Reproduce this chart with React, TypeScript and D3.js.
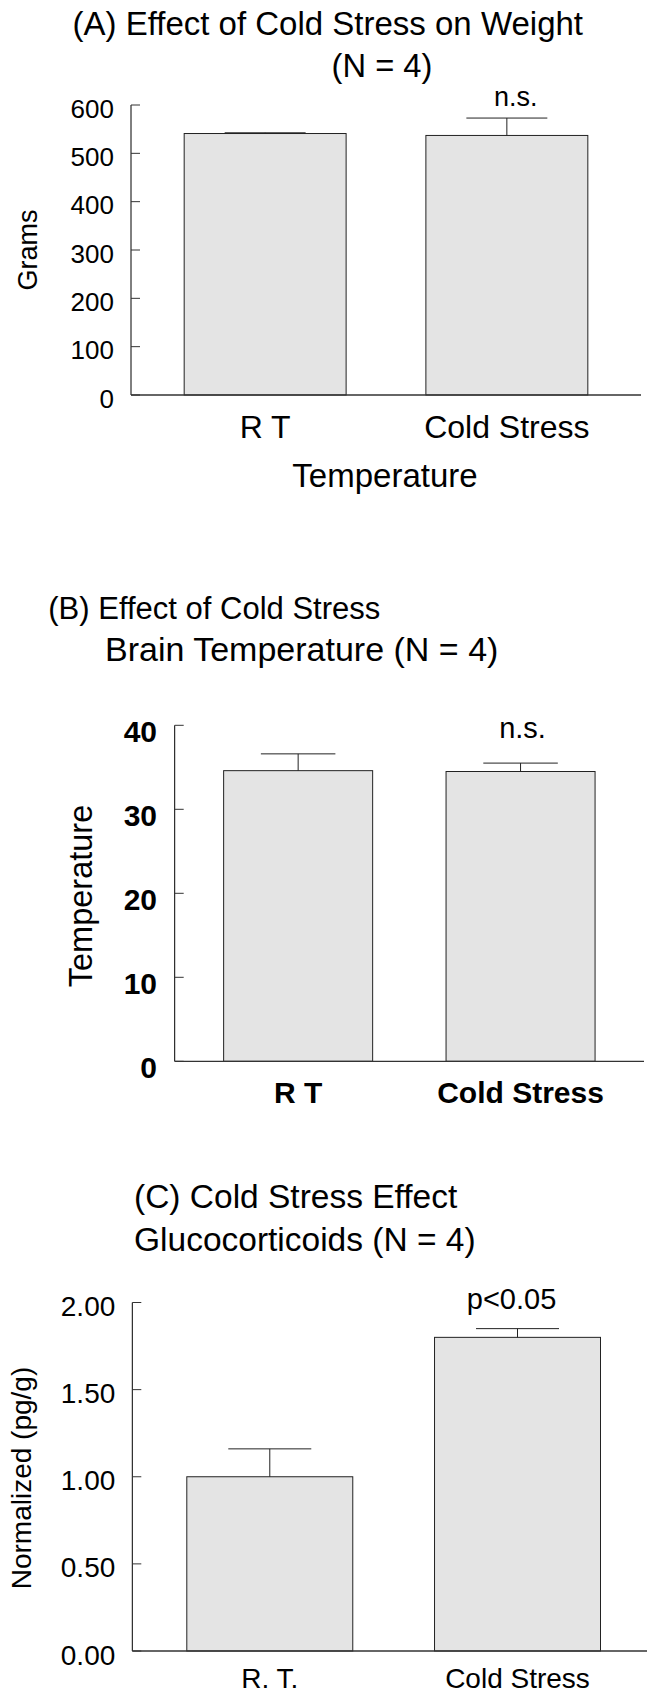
import React from "react";
import * as d3 from "d3";

// ---------- Data ----------
const categoriesA = ["R T", "Cold Stress"];
const valuesA = [541, 537];
const errorsA = [1.5, 36];
const ticksA = [0, 100, 200, 300, 400, 500, 600];
const annotA = ["", "n.s."];

const categoriesB = ["R T", "Cold Stress"];
const valuesB = [34.6, 34.5];
const errorsB = [2.0, 1.0];
const ticksB = [0, 10, 20, 30, 40];
const annotB = ["", "n.s."];

const categoriesC = ["R. T.", "Cold Stress"];
const valuesC = [1.0, 1.8];
const errorsC = [0.16, 0.05];
const ticksC = [0, 0.5, 1.0, 1.5, 2.0];
const annotC = ["", "p<0.05"];

const FONT = "'Liberation Sans', Arial, Helvetica, sans-serif";

type PanelProps = {
  categories: string[];
  values: number[];
  errors: number[];
  ticks: number[];
  annot: string[];
  tickFormat: (v: number) => string;
  yMax: number;
  axisX: number;
  xEnd: number;
  yTop: number;
  yBottom: number;
  tickFont: number;
  tickBold: boolean;
  tickBase: number;
  tickGap: number;
  catFont: number;
  catBold: boolean;
  catBase: number;
  annotFont: number;
  annotBase: number;
  annotDx: number;
};

function Panel(p: PanelProps) {
  const x = d3
    .scaleBand<string>()
    .domain(p.categories)
    .range([p.axisX, p.xEnd])
    .paddingInner(0.33)
    .paddingOuter(0.22);
  const y = d3.scaleLinear().domain([0, p.yMax]).range([p.yBottom, p.yTop]);
  const bw = x.bandwidth();
  return (
    <g>
      {p.categories.map((c, i) => {
        const x0 = x(c)!;
        const cx = x0 + bw / 2;
        const top = y(p.values[i]);
        const errY = y(p.values[i] + p.errors[i]);
        return (
          <g key={c}>
            <rect
              x={x0}
              y={top}
              width={bw}
              height={y(0) - top}
              fill="#e4e4e4"
              stroke="#222"
              strokeWidth={1}
            />
            <line x1={cx} x2={cx} y1={top} y2={errY} stroke="#222" strokeWidth={1} />
            <line
              x1={cx - bw / 4}
              x2={cx + bw / 4}
              y1={errY}
              y2={errY}
              stroke="#222"
              strokeWidth={1}
            />
            <text
              x={cx}
              y={p.catBase}
              textAnchor="middle"
              fontFamily={FONT}
              fontSize={p.catFont}
              fontWeight={p.catBold ? "bold" : "normal"}
            >
              {c}
            </text>
            {p.annot[i] && (
              <text
                x={cx + p.annotDx}
                y={p.annotBase}
                textAnchor="middle"
                fontFamily={FONT}
                fontSize={p.annotFont}
              >
                {p.annot[i]}
              </text>
            )}
          </g>
        );
      })}
      {/* y axis */}
      <line x1={p.axisX} x2={p.axisX} y1={p.yTop} y2={p.yBottom} stroke="#000" strokeWidth={1} />
      {p.ticks.map((t) => (
        <g key={t}>
          <line
            x1={p.axisX}
            x2={p.axisX + 9}
            y1={y(t)}
            y2={y(t)}
            stroke="#333"
            strokeWidth={1}
          />
          <text
            x={p.axisX - p.tickGap}
            y={y(t) + p.tickBase}
            textAnchor="end"
            fontFamily={FONT}
            fontSize={p.tickFont}
            fontWeight={p.tickBold ? "bold" : "normal"}
          >
            {p.tickFormat(t)}
          </text>
        </g>
      ))}
      {/* x axis */}
      <line x1={p.axisX} x2={p.xEnd} y1={p.yBottom} y2={p.yBottom} stroke="#333" strokeWidth={1.3} />
    </g>
  );
}

export default function App() {
  return (
    <svg
      width={647}
      height={1692}
      style={{ position: "absolute", left: 0, top: 0, background: "#fff" }}
    >
      <rect x={0} y={0} width={647} height={1692} fill="#fff" />
      {/* Panel A */}
      <text x={72.5} y={34.5} fontFamily={FONT} fontSize={33}>
        (A) Effect of Cold Stress on Weight
      </text>
      <text x={382} y={77} textAnchor="middle" fontFamily={FONT} fontSize={32.7}>
        (N = 4)
      </text>
      <text
        transform="translate(37,250) rotate(-90)"
        textAnchor="middle"
        fontFamily={FONT}
        fontSize={27}
      >
        Grams
      </text>
      <text x={385} y={487} textAnchor="middle" fontFamily={FONT} fontSize={33}>
        Temperature
      </text>
      <Panel
        categories={categoriesA}
        values={valuesA}
        errors={errorsA}
        ticks={ticksA}
        annot={annotA}
        tickFormat={(v) => String(v)}
        yMax={600}
        axisX={131}
        xEnd={641}
        yTop={105}
        yBottom={395}
        tickFont={26}
        tickBold={false}
        tickBase={12.5}
        tickGap={17}
        catFont={32}
        catBold={false}
        catBase={437.5}
        annotFont={27}
        annotBase={106}
        annotDx={9}
      />

      {/* Panel B */}
      <text x={48.3} y={619} fontFamily={FONT} fontSize={31}>
        (B) Effect of Cold Stress
      </text>
      <text x={105} y={661} fontFamily={FONT} fontSize={34}>
        Brain Temperature (N = 4)
      </text>
      <text
        transform="translate(92,896) rotate(-90)"
        textAnchor="middle"
        fontFamily={FONT}
        fontSize={32.5}
      >
        Temperature
      </text>
      <Panel
        categories={categoriesB}
        values={valuesB}
        errors={errorsB}
        ticks={ticksB}
        annot={annotB}
        tickFormat={(v) => String(v)}
        yMax={40}
        axisX={174.7}
        xEnd={644}
        yTop={725.3}
        yBottom={1061.3}
        tickFont={30}
        tickBold={true}
        tickBase={16.4}
        tickGap={17.7}
        catFont={30}
        catBold={true}
        catBase={1103.3}
        annotFont={29}
        annotBase={737.5}
        annotDx={2}
      />

      {/* Panel C */}
      <text x={134} y={1208} fontFamily={FONT} fontSize={33.5}>
        (C) Cold Stress Effect
      </text>
      <text x={134} y={1250.5} fontFamily={FONT} fontSize={33.5}>
        Glucocorticoids (N = 4)
      </text>
      <text
        transform="translate(31,1478) rotate(-90)"
        textAnchor="middle"
        fontFamily={FONT}
        fontSize={28}
      >
        Normalized (pg/g)
      </text>
      <Panel
        categories={categoriesC}
        values={valuesC}
        errors={errorsC}
        ticks={ticksC}
        annot={annotC}
        tickFormat={d3.format(".2f")}
        yMax={2}
        axisX={132.3}
        xEnd={655}
        yTop={1302.5}
        yBottom={1651}
        tickFont={28}
        tickBold={false}
        tickBase={13.6}
        tickGap={17}
        catFont={28}
        catBold={false}
        catBase={1688}
        annotFont={29}
        annotBase={1309}
        annotDx={-6}
      />
    </svg>
  );
}
